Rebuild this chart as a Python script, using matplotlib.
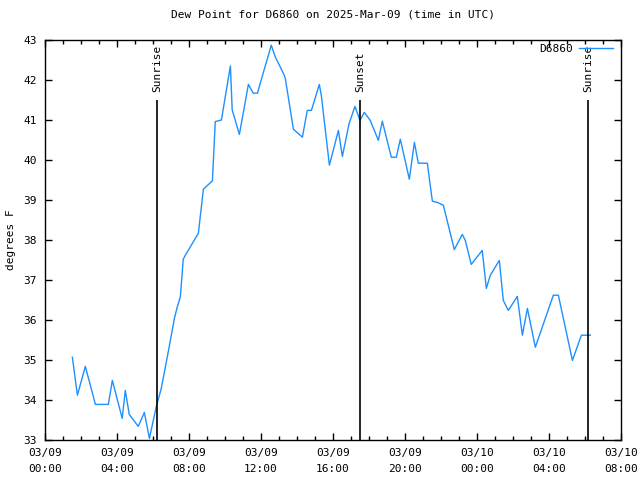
import numpy as np
import pandas as pd
import matplotlib
matplotlib.use('Agg')
import matplotlib.pyplot as plt
import matplotlib.dates as mdates
from matplotlib.ticker import MultipleLocator

# hours since 2025-03-09 00:00 UTC, dew point in F
hours = [1.52, 1.8, 2.24, 2.8, 3.52, 3.74, 4.29, 4.46, 4.68, 5.18, 5.52, 5.8,
         6.18, 6.46, 6.9, 7.18, 7.35, 7.52, 7.68, 7.8, 8.52, 8.8, 9.3, 9.46,
         9.8, 10.3, 10.4, 10.8, 11.3, 11.57, 11.8, 12.57, 12.8, 13.24, 13.35,
         13.8, 14.3, 14.57, 14.8, 15.24, 15.35, 15.8, 16.3, 16.52, 16.9, 17.22,
         17.5, 17.74, 18.07, 18.52, 18.74, 19.24, 19.52, 19.74, 20.24, 20.52,
         20.74, 21.24, 21.52, 21.8, 22.13, 22.74, 23.18, 23.35, 23.68, 24.29,
         24.52, 24.74, 25.24, 25.46, 25.74, 26.24, 26.52, 26.8, 27.24, 28.24,
         28.52, 29.3, 29.8, 30.3]
dewpt = [35.07, 34.12, 34.84, 33.89, 33.89, 34.49, 33.54, 34.24, 33.64, 33.34,
         33.69, 33.04, 33.83, 34.29, 35.33, 36.02, 36.33, 36.58, 37.52, 37.62,
         38.17, 39.27, 39.48, 40.96, 41.0, 42.35, 41.25, 40.64, 41.89, 41.67,
         41.67, 42.87, 42.57, 42.17, 42.04, 40.77, 40.57, 41.24, 41.24, 41.89,
         41.62, 39.87, 40.74, 40.09, 40.92, 41.34, 40.99, 41.19, 40.99, 40.49,
         40.97, 40.07, 40.07, 40.52, 39.52, 40.44, 39.92, 39.92, 38.97, 38.94,
         38.87, 37.76, 38.14, 37.99, 37.39, 37.74, 36.79, 37.12, 37.49, 36.49,
         36.24, 36.59, 35.62, 36.29, 35.32, 36.62, 36.62, 34.99, 35.62, 35.62]

events = ['Sunrise', 'Sunset', 'Sunrise']
event_hours = [6.22, 17.5, 30.17]

base = pd.Timestamp('2025-03-09 00:00')
t = [base + pd.Timedelta(hours=h) for h in hours]
t_ev = [base + pd.Timedelta(hours=h) for h in event_hours]

plt.rcParams['font.family'] = ['DejaVu Sans Mono']
plt.rcParams['font.size'] = 8

fig = plt.figure(figsize=(6.4, 4.8), dpi=100)
ax = fig.add_axes([45/640, 40/480, 576/640, 400/480])

ax.plot(t, dewpt, color='#1e90ff', lw=1)

for name, te in zip(events, t_ev):
    ax.vlines(te, 33, 41.5, color='black', lw=1.2)
    ax.text(te, 41.7, name, rotation=90, ha='center', va='bottom', fontsize=8)

ax.set_xlim(base, base + pd.Timedelta(hours=32))
ax.set_ylim(33, 43)
ax.xaxis.set_major_locator(mdates.HourLocator(byhour=[0, 4, 8, 12, 16, 20]))
ax.xaxis.set_minor_locator(mdates.HourLocator())
ax.xaxis.set_major_formatter(mdates.DateFormatter('%m/%d\n%H:%M'))
for lbl in ax.get_xticklabels():
    lbl.set_linespacing(1.7)
ax.yaxis.set_major_locator(MultipleLocator(1))
ax.tick_params(which='both', direction='in', top=True, right=True, width=1)
ax.tick_params(which='major', length=5, pad=6)
ax.tick_params(which='minor', length=3)
for s in ax.spines.values():
    s.set_linewidth(1)

ax.set_title('Dew Point for D6860 on 2025-Mar-09 (time in UTC)', fontsize=8, pad=16)
ax.set_ylabel('degrees F', fontsize=8)
ax.yaxis.set_label_coords(-0.05, 0.5)

# legend like gnuplot key
ax.legend(['D6860'], loc='upper right', frameon=False, handlelength=3,
          markerfirst=False, fontsize=8, borderaxespad=0.1, handletextpad=0.6,
          bbox_to_anchor=(0.995, 1.005))

fig.savefig('out.png', dpi=100)
